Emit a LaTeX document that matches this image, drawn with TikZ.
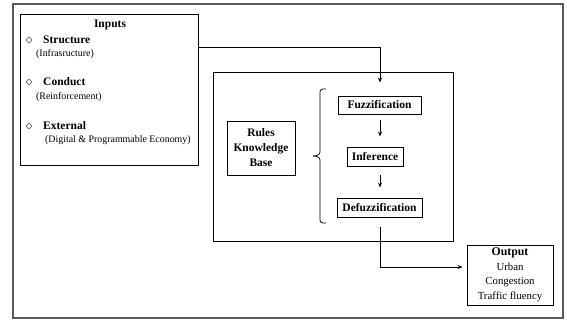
\documentclass[tikz,border=0pt]{standalone}
\usepackage{fontspec}
\setmainfont{Liberation Serif}
\usetikzlibrary{arrows.meta}
\begin{document}
\begin{tikzpicture}[x=1pt,y=-1pt,
  box/.style={draw=black,line width=0.9pt,inner sep=0pt,align=center},
  bt/.style={font=\fontsize{11.5}{15}\selectfont\bfseries,inner sep=0pt},
  rt/.style={font=\fontsize{9.9}{13}\selectfont,inner sep=0pt},
  arr/.style={line width=0.8pt,-{Stealth[length=5pt,width=4pt]}},
  bul/.style={circle,draw=black,line width=0.4pt,minimum size=5pt,inner sep=0pt}]
\useasboundingbox (0,0) rectangle (567,320);
% outer frame
\draw[gray!70!black,line width=1.3pt] (13,4) rectangle (563,318);
% inputs
\node[box,minimum width=178pt,minimum height=151pt] (inputs) at (109,89.5) {};
\node[bt] (tin) at (110,25) {Inputs};
\node[bul] (b1) at (29,40) {};
\node[bt,anchor=west] (s1) at (43,39.5) {Structure};
\node[rt,anchor=west] (s1d) at (36,54) {(Infrasructure)};
\node[bul] (b2) at (29,82) {};
\node[bt,anchor=west] (s2) at (43,81.5) {Conduct};
\node[rt,anchor=west] (s2d) at (36,97) {(Reinforcement)};
\node[bul] (b3) at (29,126) {};
\node[bt,anchor=west] (s3) at (43,125.5) {External};
\node[rt,anchor=west] (s3d) at (45,140) {(Digital \& Programmable Economy)};
% big box
\node[box,minimum width=240pt,minimum height=169pt] (big) at (333,156.5) {};
\node[box,bt,minimum width=83pt,minimum height=18pt] (fuzz) at (379.5,105) {Fuzzification};
\node[box,bt,minimum width=56pt,minimum height=19pt] (inf) at (375,156.5) {Inference};
\node[box,bt,minimum width=85pt,minimum height=19pt] (defuzz) at (379.5,207.5) {Defuzzification};
\node[box,bt,minimum width=68pt,minimum height=54pt] (rules) at (261,148) {Rules\\Knowledge\\Base};
% brace
\draw[line width=0.7pt] (326,89) -- (323,89) to[out=180,in=90] (320,92) -- (320,152) to[out=-90,in=0] (313,156);
\draw[line width=0.7pt] (326,223) -- (323,223) to[out=180,in=-90] (320,220) -- (320,160) to[out=90,in=0] (313,156);
% output
\node[box,minimum width=86pt,minimum height=60pt,font=\fontsize{10.8}{14.5}\selectfont] (out) at (510,275) {\textbf{\fontsize{11.8}{14.5}\selectfont Output}\\Urban\\Congestion\\Traffic fluency};
% connectors
\coordinate (c1) at (198,47);
\coordinate (c2) at (380,47);
\draw[arr,shorten >=13pt] (c1) -- (c2) -- (c2 |- fuzz.north);
\draw[arr,shorten <=6pt,shorten >=10pt] ([xshift=0.5pt]fuzz.south) -- ([xshift=0.5pt]fuzz.south |- inf.north);
\draw[arr,shorten <=9pt,shorten >=10pt] ([xshift=0.5pt]fuzz.south |- inf.south) -- ([xshift=0.5pt]fuzz.south |- defuzz.north);
\coordinate (c3) at (380,267);
\draw[arr,shorten <=10pt,shorten >=4pt] ([xshift=0.5pt]defuzz.south) -- (c3) -- (c3 -| out.west);
\end{tikzpicture}
\end{document}
